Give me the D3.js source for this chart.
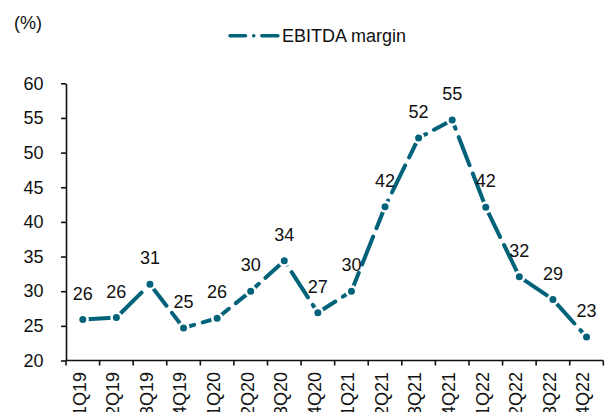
<!doctype html>
<html>
  <head>
    <meta charset="utf-8">
    <title>EBITDA margin</title>
    <style>
      body { margin: 0; background: #fff; }
      svg text { font-family: "Liberation Sans", Arial, sans-serif; font-size: 18px; fill: #111; }
      .axis path, .axis line { stroke: #111; stroke-width: 1.6px; }
    </style>
    <script src="https://cdn.jsdelivr.net/npm/d3@7/dist/d3.min.js"></script>
  </head>
  <body>
  </body>
  <script>
    // quarters on the x axis
    const quarters = ["1Q19", "2Q19", "3Q19", "4Q19", "1Q20", "2Q20", "3Q20", "4Q20",
                      "1Q21", "2Q21", "3Q21", "4Q21", "1Q22", "2Q22", "3Q22", "4Q22"];
    // EBITDA margin, %
    const margin = [25.9, 26.2, 31.0, 24.7, 26.1, 30.0, 34.4, 26.9,
                    30.0, 42.2, 52.1, 54.7, 42.1, 32.1, 28.8, 23.4];
    const yTicks = [20, 25, 30, 35, 40, 45, 50, 55, 60];

    const color = "#02627a",
        W = 606, H = 412;

    const svg = d3.select("body").append("svg")
        .attr("width", W)
        .attr("height", H);

    // plot area
    const x = d3.scaleBand()
        .domain(quarters)
        .range([66, 603.3]);

    const y = d3.scaleLinear()
        .domain([20, 60])
        .range([360.5, 83.3]);

    // y axis
    svg.append("g")
        .attr("class", "axis")
        .attr("transform", "translate(66,0)")
        .call(d3.axisLeft(y).tickValues(yTicks).tickSize(5).tickPadding(17.5).tickSizeOuter(0))
        .call(g => g.selectAll("text").attr("font-size", null).attr("font-family", null));

    // x axis, ticks between categories
    const xg = svg.append("g")
        .attr("class", "axis")
        .attr("transform", "translate(0," + y(20) + ")");
    xg.append("line")
        .attr("x1", x.range()[0]).attr("x2", x.range()[1]);
    xg.selectAll(".tk")
        .data(quarters.concat(["end"]))
        .enter().append("line")
        .attr("class", "tk")
        .attr("x1", (d, i) => x.range()[0] + i * x.bandwidth())
        .attr("x2", (d, i) => x.range()[0] + i * x.bandwidth())
        .attr("y2", 5);
    xg.selectAll("text")
        .data(quarters)
        .enter().append("text")
        .attr("transform", d => "translate(" + (x(d) + x.bandwidth() / 2 - 3.5) + ",11.5) rotate(-90)")
        .attr("dy", "0.35em")
        .style("text-anchor", "end")
        .text(d => d);

    // line
    const line = d3.line()
        .x((d, i) => x(quarters[i]) + x.bandwidth() / 2)
        .y(d => y(d));

    svg.append("path")
        .datum(margin)
        .attr("d", line)
        .attr("fill", "none")
        .attr("stroke", color)
        .attr("stroke-width", 4)
        .attr("stroke-linecap", "round")
        .attr("stroke-dasharray", "30,9");

    svg.selectAll(".pt")
        .data(margin)
        .enter().append("circle")
        .attr("class", "pt")
        .attr("cx", (d, i) => x(quarters[i]) + x.bandwidth() / 2)
        .attr("cy", d => y(d))
        .attr("r", 4.8)
        .attr("fill", color)
        .attr("stroke", "#fff")
        .attr("stroke-width", 2.6);

    // data labels
    svg.selectAll(".lbl")
        .data(margin)
        .enter().append("text")
        .attr("class", "lbl")
        .attr("x", (d, i) => x(quarters[i]) + x.bandwidth() / 2)
        .attr("y", d => y(d) - 20)
        .style("text-anchor", "middle")
        .text(d => Math.round(d));

    // unit
    svg.append("text")
        .attr("x", 14)
        .attr("y", 29)
        .text("(%)");

    // legend
    const lg = svg.append("g").attr("transform", "translate(0,35.7)");
    lg.append("line")
        .attr("x1", 230).attr("x2", 278)
        .attr("stroke", color)
        .attr("stroke-width", 3.6)
        .attr("stroke-linecap", "round")
        .attr("stroke-dasharray", "15.5,8.2,0,8.2,16");
    lg.append("text")
        .attr("x", 282)
        .attr("dy", "0.35em")
        .text("EBITDA margin");
  </script>
</html>
